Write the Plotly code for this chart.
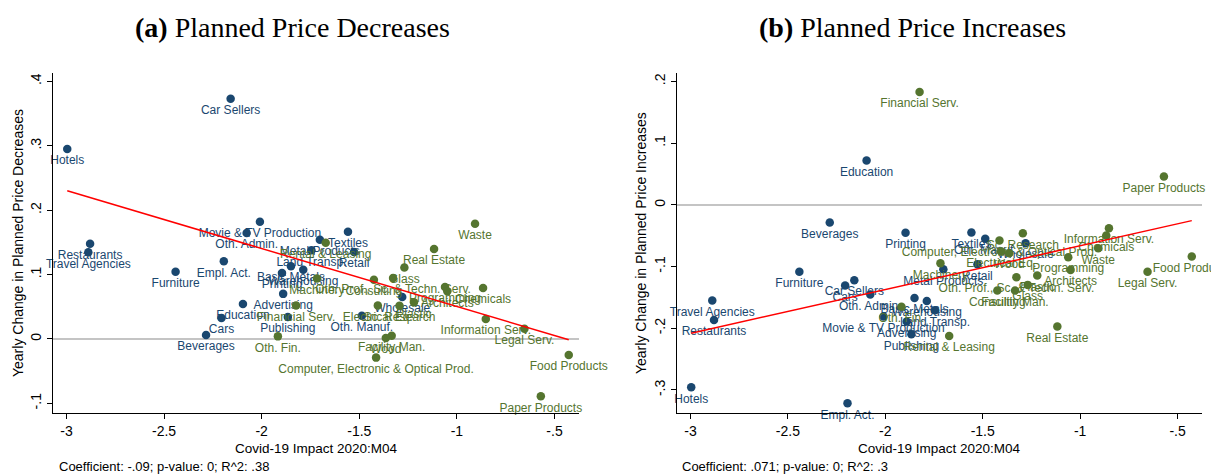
import plotly.graph_objects as go

sectors = [
    "Hotels", "Car Sellers", "Restaurants", "Travel Agencies", "Furniture", "Empl. Act.",
    "Movie & TV Production", "Oth. Admin.", "Education", "Cars", "Beverages", "Advertising",
    "Printing", "Basic Metals", "Warehousing", "Publishing", "Metal Products", "Textiles",
    "Retail", "Land Transp.", "Oth. Manuf.", "Wholesale",
    "Financial Serv.", "Oth. Fin.", "Rental & Leasing", "Machinery", "Consulting",
    "Oth. Prof., Sc. & Techn. Serv.", "Glass", "Real Estate", "Waste", "Programming",
    "Architects", "Chemicals", "Electrical Eq.", "Sc. Research", "Plastic",
    "Information Serv.", "Legal Serv.", "Facility Man.", "Wood",
    "Computer, Electronic & Optical Prod.", "Food Products", "Paper Products",
]
group = ["b"] * 22 + ["g"] * 22

covid_impact = [
    -2.996, -2.159, -2.879, -2.888, -2.441, -2.194,
    -2.009, -2.077, -2.096, -2.206, -2.285, -1.890,
    -1.896, -1.850, -1.787, -1.866, -1.702, -1.558,
    -1.527, -1.745, -1.487, -1.280,
    -1.824, -1.917, -1.672, -1.717, -1.425,
    -1.327, -1.269, -1.117, -0.907, -1.061,
    -1.049, -0.866, -1.405, -1.294, -1.220,
    -0.852, -0.654, -1.334, -1.364,
    -1.414, -0.427, -0.570,
]

chg_decreases = [
    0.295, 0.373, 0.148, 0.1345, 0.1045, 0.1205,
    0.182, 0.1646, 0.0543, 0.0326, 0.0062, 0.070,
    0.1025, 0.113, 0.1076, 0.034, 0.154, 0.1666,
    0.135, 0.1376, 0.036, 0.065,
    0.052, 0.004, 0.1495, 0.0937, 0.092,
    0.0947, 0.111, 0.1397, 0.179, 0.0807,
    0.074, 0.079, 0.0518, 0.0517, 0.0568,
    0.031, 0.016, 0.005, 0.0016,
    -0.029, -0.025, -0.089,
]

chg_increases = [
    -0.2956, -0.1221, -0.1865, -0.155, -0.1086, -0.3216,
    -0.181, -0.1454, 0.0718, -0.1308, -0.0287, -0.189,
    -0.0454, -0.151, -0.156, -0.2097, -0.1043, -0.0449,
    -0.0962, -0.171, -0.0551, -0.0621,
    0.1827, -0.165, -0.2124, -0.0946, -0.139,
    -0.1172, -0.1297, -0.1973, -0.0703, -0.0848,
    -0.1054, -0.0497, -0.0757, -0.046, -0.1146,
    -0.0378, -0.1086, -0.139, -0.0783,
    -0.0579, -0.0838, 0.0459,
]

# linear fits (intercept, slope)
fit_dec = (-0.0396, -0.090)
fit_inc = (0.0047, 0.071)

x_ticks = [-3, -2.5, -2, -1.5, -1, -0.5]
x_ticktext = ["-3", "-2.5", "-2", "-1.5", "-1", "-.5"]
y_ticks_dec = [-0.1, 0, 0.1, 0.2, 0.3, 0.4]
y_ticktext_dec = ["-.1", "0", ".1", ".2", ".3", ".4"]
y_ticks_inc = [-0.3, -0.2, -0.1, 0, 0.1, 0.2]
y_ticktext_inc = ["-.3", "-.2", "-.1", "0", ".1", ".2"]

captions = ["Coefficient: -.09; p-value: 0; R^2: .38", "Coefficient: .071; p-value: 0; R^2: .3"]

BLUE = "#1a476f"
GREEN = "#55752f"
OFF = 8  # page body margin
W, H = 1219 - OFF, 474 - OFF


def px(v):
    return (v - OFF) / W


def py(v):
    return 1 - (v - OFF) / H


fig = go.Figure()


def add_panel(yvals, fit, xa, ya):
    for g, col in (("b", BLUE), ("g", GREEN)):
        idx = [i for i, gg in enumerate(group) if gg == g]
        fig.add_trace(go.Scatter(
            x=[covid_impact[i] for i in idx], y=[yvals[i] for i in idx],
            text=[sectors[i] for i in idx], mode="markers+text",
            textposition="bottom center", cliponaxis=False,
            marker=dict(color=col, size=8.5, line=dict(width=0)),
            textfont=dict(family="Liberation Sans, Arial", size=12, color=col),
            xaxis=xa, yaxis=ya, showlegend=False, hoverinfo="skip"))
    xs = [min(covid_impact), max(covid_impact)]
    fig.add_trace(go.Scatter(
        x=xs, y=[fit[0] + fit[1] * v for v in xs], mode="lines",
        line=dict(color="#ff0000", width=1.5), xaxis=xa, yaxis=ya,
        showlegend=False, hoverinfo="skip"))


add_panel(chg_decreases, fit_dec, "x", "y")
add_panel(chg_increases, fit_inc, "x2", "y2")

tickfont = dict(family="Liberation Sans, Arial", size=14, color="black")
common_x = dict(range=[-3.069, -0.3745], tickvals=x_ticks, ticktext=x_ticktext,
                showgrid=False, zeroline=False, showline=True, linecolor="black",
                linewidth=1, ticks="outside", ticklen=5, tickcolor="black",
                tickfont=tickfont)
common_y = dict(showgrid=False, zeroline=True, zerolinecolor="#c4c4c4", zerolinewidth=1.5,
                showline=True, linecolor="black", linewidth=1, ticks="outside", ticklen=5,
                tickcolor="black", tickfont=tickfont, tickangle=-90)

ydom = [py(413), py(73)]
fig.update_layout(
    width=W, height=H, margin=dict(l=0, r=0, t=0, b=0),
    plot_bgcolor="white", paper_bgcolor="white",
    xaxis=dict(domain=[px(53), px(579)], anchor="y", **common_x),
    yaxis=dict(domain=ydom, anchor="x", range=[-0.115, 0.413], tickvals=y_ticks_dec,
               ticktext=y_ticktext_dec, **common_y),
    xaxis2=dict(domain=[px(677), px(1202)], anchor="y2", **common_x),
    yaxis2=dict(domain=ydom, anchor="x2", range=[-0.3373, 0.2136], tickvals=y_ticks_inc,
                ticktext=y_ticktext_inc, **common_y),
)

ann = []
titles = [("<b>(a)</b> Planned Price Decreases", 292.5), ("<b>(b)</b> Planned Price Increases", 912)]
for t, cx in titles:
    ann.append(dict(text=t, x=px(cx), y=py(28), xref="paper", yref="paper",
                    showarrow=False, xanchor="center", yanchor="middle",
                    font=dict(family="Liberation Serif, serif", size=28, color="black")))
for cx in [(53 + 579) / 2, (677 + 1202) / 2]:
    ann.append(dict(text="Covid-19 Impact 2020:M04", x=px(cx), y=py(448), xref="paper",
                    yref="paper", showarrow=False, xanchor="center", yanchor="middle",
                    font=dict(family="Liberation Sans, Arial", size=13.5, color="black")))
for t, lx in zip(captions, [57, 680]):
    ann.append(dict(text=t, x=px(lx), y=py(466), xref="paper", yref="paper",
                    showarrow=False, xanchor="left", yanchor="middle",
                    font=dict(family="Liberation Sans, Arial", size=13, color="black")))
for t, lx in [("Yearly Change in Planned Price Decreases", 18),
              ("Yearly Change in Planned Price Increases", 641)]:
    ann.append(dict(text=t, x=px(lx), y=py(243), xref="paper", yref="paper",
                    showarrow=False, xanchor="center", yanchor="middle", textangle=-90,
                    font=dict(family="Liberation Sans, Arial", size=14, color="black")))
fig.update_layout(annotations=ann)

fig.write_html("out.html")
